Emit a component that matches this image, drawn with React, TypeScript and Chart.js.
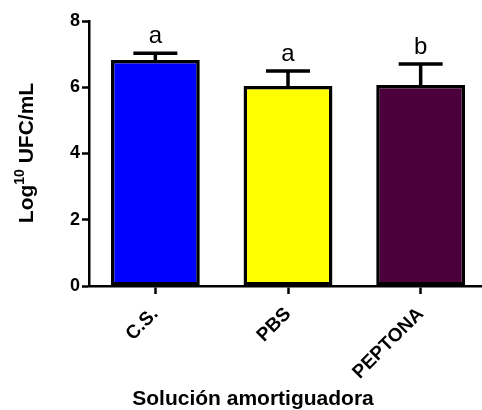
import React, { useEffect, useRef } from "react";
import { Chart, registerables } from "chart.js";

Chart.register(...registerables);

// Buffer solutions and mean counts (log10 CFU/mL) with their deviations
const categories = ["C.S.", "PBS", "PEPTONA"];
const means = [6.82, 6.04, 6.07];
const errors = [0.21, 0.45, 0.63];
const groupLetters = ["a", "a", "b"];
const barColors = ["#0000ff", "#ffff00", "#4b003b"];
const yTicks = [0, 2, 4, 6, 8];

const FONT = "Arial, 'Liberation Sans', Helvetica, sans-serif";

// Draws error whiskers, significance letters and the axis titles
const annotations = {
  id: "annotations",
  afterDatasetsDraw(chart: any) {
    const ctx = chart.ctx as CanvasRenderingContext2D;
    const meta = chart.getDatasetMeta(0);
    const y = chart.scales.y;
    ctx.save();
    meta.data.forEach((bar: any, i: number) => {
      const x = bar.x;
      const top = y.getPixelForValue(means[i]);
      const capY = y.getPixelForValue(means[i] + errors[i]);
      ctx.strokeStyle = "#000";
      ctx.lineWidth = 3.5;
      ctx.beginPath();
      ctx.moveTo(x, top);
      ctx.lineTo(x, capY);
      ctx.moveTo(x - 22, capY);
      ctx.lineTo(x + 22, capY);
      ctx.stroke();

      ctx.fillStyle = "#000";
      ctx.font = `24px ${FONT}`;
      ctx.textAlign = "center";
      ctx.textBaseline = "alphabetic";
      ctx.fillText(groupLetters[i], x, capY - 10);
    });

    // y-axis title with superscript
    const big = `bold 21px ${FONT}`;
    const small = `bold 14px ${FONT}`;
    ctx.font = big;
    const wLog = ctx.measureText("Log").width;
    const wRest = ctx.measureText(" UFC/mL").width;
    ctx.font = small;
    const wSup = ctx.measureText("10").width;
    const total = wLog + wSup + wRest;
    ctx.translate(33, 153);
    ctx.rotate(-Math.PI / 2);
    ctx.textAlign = "left";
    ctx.textBaseline = "alphabetic";
    let cx = -total / 2;
    ctx.font = big;
    ctx.fillText("Log", cx, 0);
    cx += wLog;
    ctx.font = small;
    ctx.fillText("10", cx, -9);
    cx += wSup;
    ctx.font = big;
    ctx.fillText(" UFC/mL", cx, 0);
    ctx.restore();

    // x-axis title
    ctx.save();
    ctx.fillStyle = "#000";
    ctx.font = `bold 21px ${FONT}`;
    ctx.textAlign = "center";
    ctx.textBaseline = "alphabetic";
    ctx.fillText("Solución amortiguadora", 253, 405);
    ctx.restore();
  },
};

export default function App() {
  const canvasRef = useRef<HTMLCanvasElement | null>(null);

  useEffect(() => {
    if (!canvasRef.current) return;
    const chart = new Chart(canvasRef.current, {
      type: "bar",
      data: {
        labels: categories,
        datasets: [
          {
            data: means,
            backgroundColor: barColors,
            borderColor: "#000",
            borderWidth: 3.5,
            borderSkipped: false,
            categoryPercentage: 1,
            barPercentage: 0.67,
          },
        ],
      },
      options: {
        responsive: false,
        animation: false,
        layout: { padding: { top: 21, right: 3, left: 0, bottom: 0 } },
        plugins: {
          legend: { display: false },
          tooltip: { enabled: false },
        },
        scales: {
          x: {
            offset: true,
            grid: {
              offset: false,
              drawOnChartArea: false,
              drawTicks: true,
              tickLength: 8,
              tickColor: "#000",
              tickWidth: 2.5,
            },
            border: { color: "#000", width: 2.5 },
            ticks: {
              color: "#000",
              font: { family: FONT, size: 19, weight: "bold" },
              maxRotation: 45,
              minRotation: 45,
              padding: 9,
            },
            afterFit: (s: any) => {
              s.height = 124;
            },
          },
          y: {
            min: 0,
            max: 8,
            afterBuildTicks: (s: any) => {
              s.ticks = yTicks.map((v) => ({ value: v }));
            },
            grid: {
              drawOnChartArea: false,
              drawTicks: true,
              tickLength: 7,
              tickColor: "#000",
              tickWidth: 2.5,
            },
            border: { color: "#000", width: 2.5 },
            ticks: {
              color: "#000",
              font: { family: FONT, size: 18, weight: "bold" },
              padding: 2,
            },
            afterFit: (s: any) => {
              s.width = 89;
            },
          },
        },
      },
      plugins: [annotations],
    });
    return () => chart.destroy();
  }, []);

  return (
    <div
      style={{
        position: "absolute",
        left: 0,
        top: 0,
        width: 482,
        height: 410,
        overflow: "hidden",
        background: "#fff",
      }}
    >
      <canvas
        ref={canvasRef}
        width={490}
        height={410}
        style={{ width: 490, height: 410, display: "block" }}
      />
    </div>
  );
}
